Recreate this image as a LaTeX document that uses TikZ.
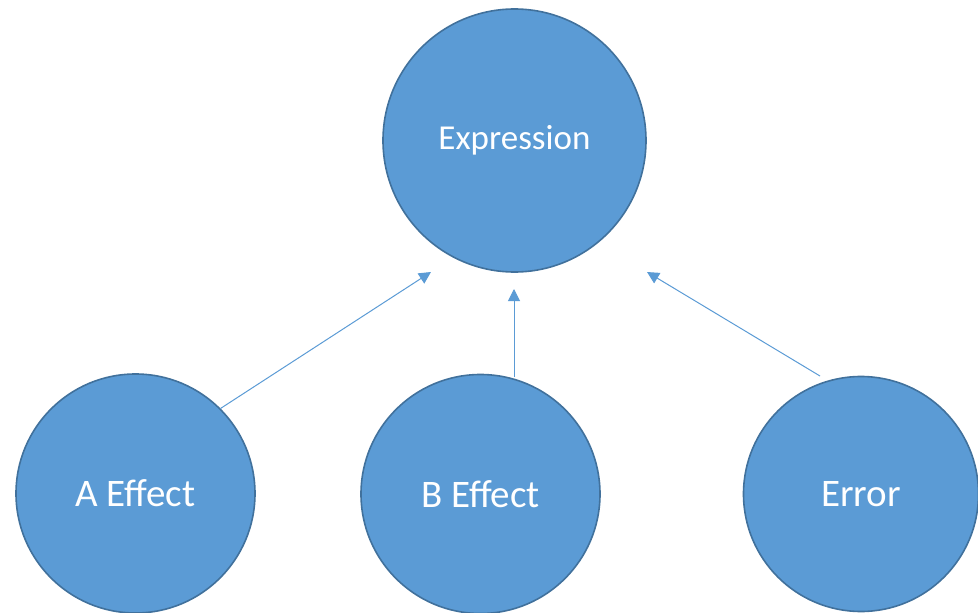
\documentclass[tikz,border=0pt]{standalone}
\usepackage{fontspec}
\setmainfont{Carlito}
\usetikzlibrary{arrows.meta}
\definecolor{cfill}{HTML}{5B9BD5}
\definecolor{cline}{HTML}{41719C}
\tikzset{
  blob/.style={circle, fill=cfill, draw=cline, line width=1.6pt, inner sep=0pt, text=white},
  conn/.style={draw=cfill, line width=1pt, -{Triangle[length=12pt,width=12pt]}}
}
\begin{document}
\begin{tikzpicture}[x=1pt,y=-1pt]
\useasboundingbox (0,0) rectangle (978,613);
\node[blob, minimum size=263pt, font=\fontsize{35}{40}\selectfont] (E) at (514.5,140.5) {Expression};
\node[blob, minimum size=239pt, font=\fontsize{39}{44}\selectfont] (A) at (135.5,493.5) {A Effect};
\node[blob, minimum size=239pt, font=\fontsize{39}{44}\selectfont] (B) at (480.5,494) {B Effect};
\node[blob, minimum size=235pt, font=\fontsize{39}{44}\selectfont] (R) at (861,494) {Error};
\coordinate (t1) at (431,272);
\coordinate (s2) at (514,377);
\coordinate (t2) at (514,289);
\coordinate (s3) at (820,376);
\coordinate (t3) at (647,272);
\draw[conn] (A.45) -- (t1);
\draw[conn] (s2) -- (t2);
\draw[conn] (s3) -- (t3);
\end{tikzpicture}
\end{document}
